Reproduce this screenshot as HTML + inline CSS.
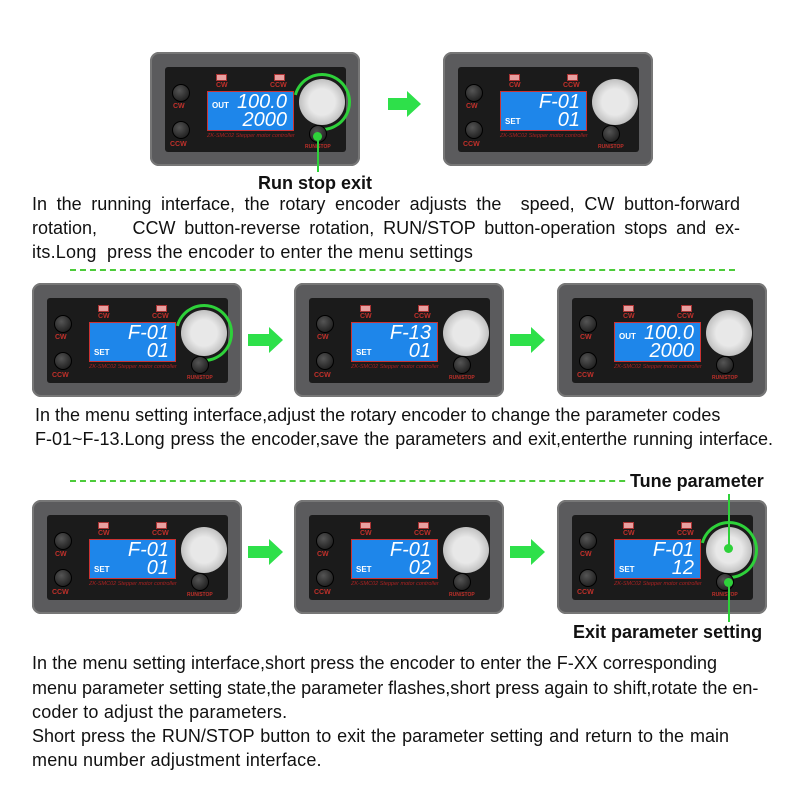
<!DOCTYPE html><html><head><style>
body{margin:0;width:800px;height:800px;background:#fff;position:relative;overflow:hidden;font-family:"Liberation Sans",sans-serif}
.dev{position:absolute;width:210px;height:114px;background:#5b5b5d;border-radius:9px;box-shadow:inset 0 0 0 2px #777}
.pn{position:absolute;left:15px;top:15px;width:181px;height:85px;background:#1b1b1b;border-radius:3px}
.led{position:absolute;top:22px;width:9px;height:5px;background:#e8a0a0;border:1px solid #a33}
.lb{position:absolute;color:#c0302a;font-size:7px;font-weight:bold;}
.btn{position:absolute;width:16px;height:16px;border-radius:50%;background:radial-gradient(circle at 40% 35%,#555,#111);border:1px solid #000}
.scr{position:absolute;left:57px;top:39px;width:85px;height:38px;background:#1e86ea;border:1px solid #c33;color:#fff;font-family:"Liberation Sans",sans-serif;font-style:italic}
.l1{position:absolute;right:6px;top:0px;font-size:20px;line-height:20px;letter-spacing:0}
.l2{position:absolute;right:6px;top:18px;font-size:20px;line-height:20px;letter-spacing:0}
.sm{position:absolute;left:4px;font-size:8px;font-weight:bold;font-style:normal;font-family:"Liberation Sans",sans-serif}
.knob{position:absolute;left:149px;top:27px;width:46px;height:46px;border-radius:50%;background:radial-gradient(circle,#e8e8e8 40%,#bbb 75%,#888)}
.ring{position:absolute;left:143px;top:21px;width:52px;height:52px;border-radius:50%;border:3px solid #2ed13a;border-left-color:transparent;transform:rotate(-30deg)}
.rs{position:absolute;left:159px;top:73px;width:16px;height:16px;border-radius:50%;background:radial-gradient(circle at 40% 35%,#555,#111);border:1px solid #000}
.ft{position:absolute;left:57px;top:81px;font-size:5.5px;color:#a22;font-style:italic;white-space:nowrap}
.t{position:absolute;font-size:18px;color:#111;white-space:nowrap;text-align:justify;text-align-last:justify}
.s{position:absolute;font-size:18px;color:#111;white-space:nowrap;letter-spacing:0.2px}
.ash{position:absolute;height:12px;background:#2ee04a}
.ahd{position:absolute;width:0;height:0;border-top:13px solid transparent;border-bottom:13px solid transparent;border-left:14px solid #2ee04a}
.dash{position:absolute;left:70px;width:665px;border-top:2px dashed #4ccb3a}
.b{position:absolute;font-weight:bold;font-size:18px;color:#111;white-space:nowrap;background:#fff}
.gl{position:absolute;width:2px;background:#2ed13a}
.dot{position:absolute;width:9px;height:9px;border-radius:50%;background:#2ed13a}
</style></head><body>

<div class="dev" style="left:150px;top:52px"><div class="pn"></div><div class="led" style="left:66px"></div><div class="led" style="left:124px"></div><div class="lb" style="left:66px;top:30px">CW</div><div class="lb" style="left:120px;top:30px">CCW</div><div class="btn" style="left:22px;top:32px"></div><div class="lb" style="left:23px;top:51px">CW</div><div class="btn" style="left:22px;top:69px"></div><div class="lb" style="left:20px;top:89px">CCW</div><div class="scr"><span class="sm" style="top:9px">OUT</span><span class="l1">100.0</span><span class="l2">2000</span></div><div class="ft">ZK-SMC02 Stepper motor controller</div><div class="ring"></div><div class="knob"></div><div class="rs"></div><div class="lb" style="left:155px;top:92px;font-size:5px">RUN/STOP</div></div>

<div class="dev" style="left:443px;top:52px"><div class="pn"></div><div class="led" style="left:66px"></div><div class="led" style="left:124px"></div><div class="lb" style="left:66px;top:30px">CW</div><div class="lb" style="left:120px;top:30px">CCW</div><div class="btn" style="left:22px;top:32px"></div><div class="lb" style="left:23px;top:51px">CW</div><div class="btn" style="left:22px;top:69px"></div><div class="lb" style="left:20px;top:89px">CCW</div><div class="scr"><span class="l1">F-01</span><span class="sm" style="top:25px">SET</span><span class="l2">01</span></div><div class="ft">ZK-SMC02 Stepper motor controller</div><div class="knob"></div><div class="rs"></div><div class="lb" style="left:155px;top:92px;font-size:5px">RUN/STOP</div></div>

<div class="dev" style="left:32px;top:283px"><div class="pn"></div><div class="led" style="left:66px"></div><div class="led" style="left:124px"></div><div class="lb" style="left:66px;top:30px">CW</div><div class="lb" style="left:120px;top:30px">CCW</div><div class="btn" style="left:22px;top:32px"></div><div class="lb" style="left:23px;top:51px">CW</div><div class="btn" style="left:22px;top:69px"></div><div class="lb" style="left:20px;top:89px">CCW</div><div class="scr"><span class="l1">F-01</span><span class="sm" style="top:25px">SET</span><span class="l2">01</span></div><div class="ft">ZK-SMC02 Stepper motor controller</div><div class="ring"></div><div class="knob"></div><div class="rs"></div><div class="lb" style="left:155px;top:92px;font-size:5px">RUN/STOP</div></div>

<div class="dev" style="left:294px;top:283px"><div class="pn"></div><div class="led" style="left:66px"></div><div class="led" style="left:124px"></div><div class="lb" style="left:66px;top:30px">CW</div><div class="lb" style="left:120px;top:30px">CCW</div><div class="btn" style="left:22px;top:32px"></div><div class="lb" style="left:23px;top:51px">CW</div><div class="btn" style="left:22px;top:69px"></div><div class="lb" style="left:20px;top:89px">CCW</div><div class="scr"><span class="l1">F-13</span><span class="sm" style="top:25px">SET</span><span class="l2">01</span></div><div class="ft">ZK-SMC02 Stepper motor controller</div><div class="knob"></div><div class="rs"></div><div class="lb" style="left:155px;top:92px;font-size:5px">RUN/STOP</div></div>

<div class="dev" style="left:557px;top:283px"><div class="pn"></div><div class="led" style="left:66px"></div><div class="led" style="left:124px"></div><div class="lb" style="left:66px;top:30px">CW</div><div class="lb" style="left:120px;top:30px">CCW</div><div class="btn" style="left:22px;top:32px"></div><div class="lb" style="left:23px;top:51px">CW</div><div class="btn" style="left:22px;top:69px"></div><div class="lb" style="left:20px;top:89px">CCW</div><div class="scr"><span class="sm" style="top:9px">OUT</span><span class="l1">100.0</span><span class="l2">2000</span></div><div class="ft">ZK-SMC02 Stepper motor controller</div><div class="knob"></div><div class="rs"></div><div class="lb" style="left:155px;top:92px;font-size:5px">RUN/STOP</div></div>

<div class="dev" style="left:32px;top:500px"><div class="pn"></div><div class="led" style="left:66px"></div><div class="led" style="left:124px"></div><div class="lb" style="left:66px;top:30px">CW</div><div class="lb" style="left:120px;top:30px">CCW</div><div class="btn" style="left:22px;top:32px"></div><div class="lb" style="left:23px;top:51px">CW</div><div class="btn" style="left:22px;top:69px"></div><div class="lb" style="left:20px;top:89px">CCW</div><div class="scr"><span class="l1">F-01</span><span class="sm" style="top:25px">SET</span><span class="l2">01</span></div><div class="ft">ZK-SMC02 Stepper motor controller</div><div class="knob"></div><div class="rs"></div><div class="lb" style="left:155px;top:92px;font-size:5px">RUN/STOP</div></div>

<div class="dev" style="left:294px;top:500px"><div class="pn"></div><div class="led" style="left:66px"></div><div class="led" style="left:124px"></div><div class="lb" style="left:66px;top:30px">CW</div><div class="lb" style="left:120px;top:30px">CCW</div><div class="btn" style="left:22px;top:32px"></div><div class="lb" style="left:23px;top:51px">CW</div><div class="btn" style="left:22px;top:69px"></div><div class="lb" style="left:20px;top:89px">CCW</div><div class="scr"><span class="l1">F-01</span><span class="sm" style="top:25px">SET</span><span class="l2">02</span></div><div class="ft">ZK-SMC02 Stepper motor controller</div><div class="knob"></div><div class="rs"></div><div class="lb" style="left:155px;top:92px;font-size:5px">RUN/STOP</div></div>

<div class="dev" style="left:557px;top:500px"><div class="pn"></div><div class="led" style="left:66px"></div><div class="led" style="left:124px"></div><div class="lb" style="left:66px;top:30px">CW</div><div class="lb" style="left:120px;top:30px">CCW</div><div class="btn" style="left:22px;top:32px"></div><div class="lb" style="left:23px;top:51px">CW</div><div class="btn" style="left:22px;top:69px"></div><div class="lb" style="left:20px;top:89px">CCW</div><div class="scr"><span class="l1">F-01</span><span class="sm" style="top:25px">SET</span><span class="l2">12</span></div><div class="ft">ZK-SMC02 Stepper motor controller</div><div class="ring"></div><div class="knob"></div><div class="rs"></div><div class="lb" style="left:155px;top:92px;font-size:5px">RUN/STOP</div></div>

<div class="ash" style="left:388px;top:98px;width:20px"></div><div class="ahd" style="left:407px;top:91px"></div>
<div class="ash" style="left:248px;top:334px;width:22px"></div><div class="ahd" style="left:269px;top:327px"></div>
<div class="ash" style="left:510px;top:334px;width:22px"></div><div class="ahd" style="left:531px;top:327px"></div>
<div class="ash" style="left:248px;top:546px;width:22px"></div><div class="ahd" style="left:269px;top:539px"></div>
<div class="ash" style="left:510px;top:546px;width:22px"></div><div class="ahd" style="left:531px;top:539px"></div>

<div class="dash" style="top:269px"></div>
<div class="dash" style="top:480px"></div>

<div class="gl" style="left:317px;top:136px;height:36px"></div><div class="dot" style="left:313px;top:132px"></div>
<div class="b" style="left:258px;top:173px">Run stop exit</div>
<div class="b" style="left:628px;top:471px;padding:0 2px">Tune parameter</div>
<div class="gl" style="left:728px;top:494px;height:54px"></div><div class="dot" style="left:724px;top:544px"></div>
<div class="gl" style="left:728px;top:582px;height:40px"></div><div class="dot" style="left:724px;top:578px"></div>
<div class="b" style="left:573px;top:622px">Exit parameter setting</div>

<div class="t" style="left:32px;top:194px;width:708px">In the running interface, the rotary encoder adjusts the&nbsp; speed, CW button-forward</div>
<div class="t" style="left:32px;top:218px;width:708px">rotation,&nbsp;&nbsp;&nbsp; CCW button-reverse rotation, RUN/STOP button-operation stops and ex-</div>
<div class="s" style="left:32px;top:242px">its.Long&nbsp; press the encoder to enter the menu settings</div>
<div class="t" style="left:35px;top:405px;width:670px">In the menu setting interface,adjust the rotary encoder to change the parameter codes</div>
<div class="t" style="left:35px;top:429px;width:738px">F-01~F-13.Long press the encoder,save the parameters and exit,enterthe running interface.</div>
<div class="t" style="left:32px;top:653px;width:685px">In the menu setting interface,short press the encoder to enter the F-XX corresponding</div>
<div class="t" style="left:32px;top:678px;width:708px">menu parameter setting state,the parameter flashes,short press again to shift,rotate the en-</div>
<div class="s" style="left:32px;top:702px">coder to adjust the parameters.</div>
<div class="t" style="left:32px;top:726px;width:697px">Short press the RUN/STOP button to exit the parameter setting and return to the main</div>
<div class="s" style="left:32px;top:750px">menu number adjustment interface.</div>
</body></html>
